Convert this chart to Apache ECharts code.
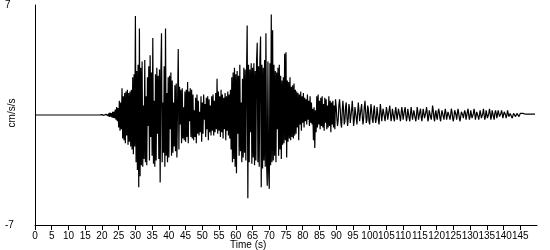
<!DOCTYPE html>
<html>
<head>
<meta charset="utf-8">
<script src="https://cdn.jsdelivr.net/npm/echarts@6/dist/echarts.min.js"></script>
<style>
html,body{margin:0;padding:0;background:#fff;}
#chart{width:550px;height:250px;}
</style>
</head>
<body>
<div id="chart"></div>
<script>
// sampling interval (s)
const dt = 0.2;
// acceleration samples (cm/s/s), one every dt seconds starting at 0 s
const accel = [
// 0-20 s
0,0,0,0,0,0,0,0,0,0,
0,0,0,0,0,0,0,0,0,0,
0,0,0,0,0,0,0,0,0,0,
0,0,0,0,0,0,0,0,0,0,
0,0,0,0,0,0,0,0,0,0,
0,0,0,0,0,0,0,0,0,0,
0,0,0,0,0,0,0,0,0,0,
0,0,0,0,0,0,0,0,0,0,
0,0,0,0,0,0,0,0,0,0,
0,0,0,0,0,0,0,0,0,0,
// 20-90 s
0.02,-0.02,0.03,-0.02,0.02,
-0.03,0.04,-0.03,0.05,-0.04,
0.1,-0.12,0.15,-0.1,0.12,
-0.15,0.2,-0.18,0.22,-0.2,
0.35,-0.3,0.5,-0.4,0.45,
-0.8,0.9,-1.0,0.8,-0.9,
1.7,-1.5,1.2,-1.6,1.4,
-1.8,1.5,-1.3,1.6,-1.9,
1.4,-1.7,1.5,-2.0,1.6,
-2.2,2.4,-2.5,2.6,-2.0,
6.3,-3.0,2.8,-3.5,3.2,
-4.6,5.5,-3.9,3.0,-3.2,
3.4,-3.3,0.6,-2.8,3.5,
-3.0,1.2,-3.2,2.4,-0.7,
3.1,-2.9,3.8,-1.4,2.7,
-2.6,4.9,-3.1,0.9,-3.3,
2.6,-2.9,3.0,-1.2,2.5,
-2.8,2.9,-4.3,2.7,5.2,
-3.0,0.8,-2.4,3.1,-3.3,
5.5,-2.6,1.4,-3.0,2.4,
-2.7,2.5,-0.9,2.7,-2.6,
2.2,-2.4,0.8,-2.0,1.9,
-2.3,2.0,-2.7,0.7,4.2,
-2.2,1.8,-0.6,1.6,-1.8,
1.7,-1.5,0.5,-1.6,1.5,
-1.7,1.6,-1.4,2.1,-1.8,
1.5,-0.4,1.7,-1.4,1.6,
-1.5,1.3,-1.6,0.3,-1.4,
1.1,-1.8,1.3,-1.2,0.9,
-1.3,0.2,-1.1,1.2,-1.7,
0.8,-1.2,1.3,-0.3,0.7,
-1.4,1.1,-0.9,1.2,-1.6,
1.0,-1.1,0.6,-1.3,1.2,
-1.0,1.3,-1.3,0.9,-1.1,
1.4,-0.9,2.3,-1.2,1.5,
-1.0,1.2,-1.4,1.6,-1.1,
1.3,-1.5,1.1,-0.9,1.4,
-1.6,1.2,-1.0,1.5,-1.3,
1.3,-1.5,1.6,-2.2,2.4,
-3.0,2.7,-2.8,3.0,-3.3,
2.6,-3.7,2.8,-1.2,2.5,
-2.6,3.2,-2.3,0.8,-3.0,
2.3,-2.7,3.0,-2.4,2.9,
-2.9,2.6,5.7,-5.3,3.2,
-3.0,2.9,-1.1,3.3,-3.1,
3.0,-2.7,3.3,-3.2,2.8,
-2.9,3.4,4.6,-3.0,3.1,
-3.3,3.5,5.0,-4.6,3.2,
-3.4,3.0,-2.9,3.5,-3.3,
5.2,-3.1,-4.5,3.4,-3.6,
-4.7,3.3,-3.2,6.4,-3.0,
5.4,-2.9,3.2,-2.6,2.8,
-3.0,2.7,-0.9,3.0,-2.6,
3.2,-2.2,2.5,-2.8,2.2,
-1.9,2.4,-1.8,3.9,-1.6,
4.0,-2.7,2.2,-1.7,2.1,
-1.5,2.4,-1.6,1.8,-1.4,
1.9,-1.5,2.0,-1.3,1.6,
-1.2,1.5,-0.8,1.4,-1.6,
1.3,-0.6,1.5,-1.0,1.2,
-0.5,1.4,-0.8,1.1,-0.4,
1.0,-0.6,1.3,-0.3,0.9,
-0.7,1.2,-0.5,0.8,-0.6,
0.4,-1.6,0.5,-2.1,0.3,
-1.1,1.2,-0.8,1.3,-0.6,
0.9,-0.9,1.1,-0.7,1.2,
-0.8,0.7,-1.0,1.1,-0.5,
1.0,-0.9,0.6,-0.8,1.2,
-0.7,0.9,-1.1,0.8,-0.6,
0.9,-0.8,0.6,-0.9,1.0,
// 90-147 s
0.5,-0.2,-0.7,-0.3,0.6,
1.0,0.4,-0.5,-0.8,0.2,
0.9,0.3,-0.6,-0.4,0.5,
0.8,-0.1,-0.7,-0.2,0.7,
0.4,-0.5,-0.6,0.3,0.9,
0.2,-0.7,-0.3,0.5,0.6,
-0.2,-0.6,0.1,0.8,0.3,
-0.4,-0.5,0.4,0.7,-0.1,
-0.6,-0.2,0.5,0.9,0.2,
-0.5,-0.3,0.6,0.4,-0.4,
-0.6,0.1,0.7,0.2,-0.3,
-0.5,0.3,0.6,-0.1,-0.5,
-0.2,0.5,0.4,-0.3,-0.6,
0.1,0.7,0.2,-0.4,-0.3,
0.4,0.5,-0.1,-0.4,0.0,
0.5,0.2,-0.3,-0.3,0.3,
0.6,0.1,-0.4,-0.1,0.4,
0.3,-0.2,-0.4,0.2,0.5,
0.1,-0.3,-0.2,0.4,0.3,
-0.1,-0.4,0.1,0.5,0.2,
-0.3,-0.3,0.3,0.5,0.0,
-0.4,-0.1,0.4,0.3,-0.2,
-0.4,0.1,0.5,0.1,-0.3,
-0.3,0.3,0.4,-0.2,-0.4,
0.0,0.5,0.2,-0.3,-0.3,
0.2,0.4,-0.1,-0.4,0.0,
0.4,0.3,-0.2,-0.3,0.2,
0.5,0.1,-0.4,-0.2,0.3,
0.4,-0.1,-0.3,0.1,0.6,
0.3,-0.2,-0.4,0.1,0.3,
-0.1,-0.3,0.1,0.4,0.2,
-0.2,-0.4,0.0,0.3,0.3,
-0.1,-0.3,0.1,0.4,0.1,
-0.3,-0.2,0.2,0.3,-0.1,
-0.3,0.0,0.4,0.2,-0.2,
-0.4,-0.1,0.3,0.4,0.0,
-0.3,0.1,0.4,0.1,-0.2,
-0.4,-0.1,0.2,0.3,0.0,
-0.2,0.1,0.3,0.1,-0.3,
-0.2,0.2,0.4,0.0,-0.3,
-0.1,0.3,0.2,-0.2,-0.3,
0.1,0.4,0.1,-0.3,-0.2,
0.2,0.3,-0.1,-0.3,0.0,
0.3,0.2,-0.2,-0.3,0.1,
0.4,0.0,-0.3,-0.1,0.3,
0.3,-0.2,-0.3,0.1,0.4,
0.1,-0.3,-0.1,0.3,0.2,
-0.1,-0.3,0.1,0.3,0.1,
-0.2,-0.1,0.3,0.2,-0.1,
-0.2,0.1,0.3,0.1,-0.2,
-0.1,0.2,0.3,0.0,-0.2,
0.0,0.3,0.2,-0.1,-0.2,
0.1,0.2,0.0,-0.2,-0.1,
0.1,0.2,0.1,-0.1,-0.1,
0.1,0.1,0.0,-0.1,0.0,
0.1,0.1,0.0,0.0,0.1,
0.1,0.0,0.0,0.05,0.05,
// 147-150 s
0.05,0.05,0.05,0.05,0.05,
0.05,0.05,0.05,0.05,0.05,
0.05,0.05,0.05
];
// axis settings
const xMin = 0, xMax = 150, xStep = 5;
const yMin = -7, yMax = 7;
const xTitle = 'Time (s)';
const yTitle = 'cm/s/s';

const seriesData = accel.map((v, i) => [Math.round(i * dt * 100) / 100, v]);

const chart = echarts.init(document.getElementById('chart'), null, {renderer: 'canvas'});
const font = 'Liberation Sans, Arial, sans-serif';
chart.setOption({
  animation: false,
  backgroundColor: '#fff',
  grid: {left: 35, right: 13, top: 5, bottom: 25, containLabel: false},
  xAxis: {
    type: 'value', min: xMin, max: xMax, interval: xStep,
    axisLine: {show: true, onZero: false, lineStyle: {color: '#000', width: 1}},
    axisTick: {show: true, length: 5, lineStyle: {color: '#000'}},
    axisLabel: {color: '#000', fontSize: 10, fontFamily: font, margin: 6, showMaxLabel: false, hideOverlap: false},
    splitLine: {show: false}
  },
  yAxis: {
    type: 'value', min: yMin, max: yMax, interval: yMax - yMin,
    axisLine: {show: true, onZero: false, lineStyle: {color: '#000', width: 1}},
    axisTick: {show: false},
    axisLabel: {color: '#000', fontSize: 10, fontFamily: font, align: 'left', margin: 30},
    splitLine: {show: false}
  },
  graphic: [
    {type: 'text', left: 230, top: 240, style: {text: xTitle, fill: '#000', font: '10px ' + font}},
    {type: 'text', x: 12, y: 113, rotation: Math.PI / 2,
     style: {text: yTitle, fill: '#000', font: '10px ' + font, align: 'center', verticalAlign: 'middle'}}
  ],
  series: [{
    type: 'line', data: seriesData, showSymbol: false, symbol: 'none',
    lineStyle: {color: '#000', width: 1.2}, silent: true
  }]
});
</script>
</body>
</html>
